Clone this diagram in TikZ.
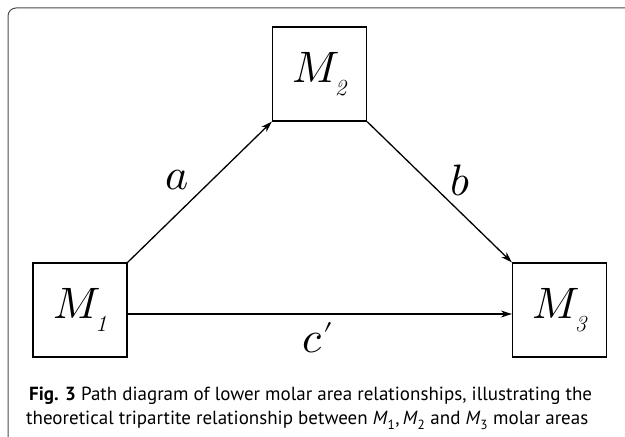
\documentclass[tikz,border=0pt]{standalone}
\usepackage{fontspec}
\usepackage{unicode-math}
\setmathfont{Latin Modern Math}
\newfontfamily\capfont{PT Sans}
\usetikzlibrary{positioning,arrows.meta}

% molar area label with a low italic index
\newcommand\molar[1]{$M$\kern-5pt\raisebox{-13pt}{\fontsize{23}{23}\selectfont\itshape #1}}
\newcommand\capM[1]{\textit{M}\textsubscript{#1}}

\begin{document}
\begin{tikzpicture}[x=1pt, y=1pt,
    every node/.style={font=\fontsize{44}{44}\selectfont},
    area/.style={draw, line width=1.3pt, minimum size=94pt, inner sep=0pt},
    link/.style={line width=1.3pt, -{Stealth[length=11pt, width=7pt]}},
    caption/.style={font=\capfont\fontsize{19}{24}\selectfont, anchor=base west, inner sep=0pt}
  ]
  \useasboundingbox (0,0) rectangle (625,437);
  \draw[gray!60!black, line width=1pt, rounded corners=8pt] (8,-10) rectangle (660,429);

  \node[area] (m1) at (80,127)    {\molar{1}};
  \node[area] (m2) at (319.5,363) {\molar{2}};
  \node[area] (m3) at (559.5,127) {\molar{3}};

  \draw[link] (m1.north east) -- (m2.south west);
  \draw[link] (m2.south east) -- (m3.north west);
  \draw[link] ([yshift=-4pt]m1.east) -- ([yshift=-4pt]m3.west);

  \node (a) at (177,257) {$a$};
  \node (b) at (460,257) {$b$};
  \node (c) at (318,95)  {$c$\kern1pt\raisebox{-9pt}{$'$}};

  \node[caption] (cap1) at (29,36) {\textbf{Fig. 3} Path diagram of lower molar area relationships, illustrating the};
  \node[caption] (cap2) at (26,12) {theoretical tripartite relationship between \capM{1},\,\capM{2} and \capM{3} molar areas};
\end{tikzpicture}
\end{document}
